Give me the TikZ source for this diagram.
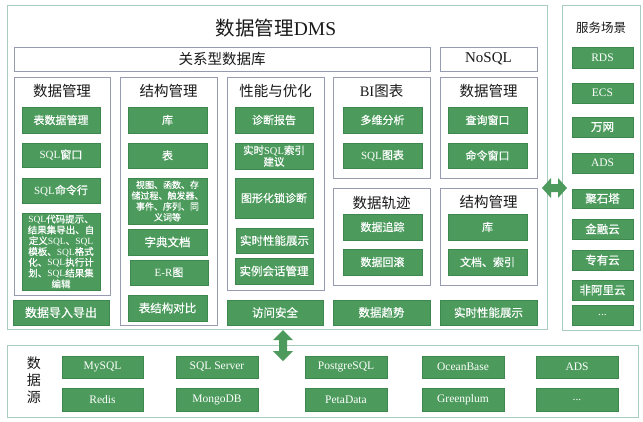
\documentclass[tikz,border=0pt]{standalone}
\usepackage{fontspec}
\setmainfont{Noto Sans CJK SC}
\newfontfamily\cjkm[FakeBold=0.6]{Noto Sans CJK SC}
\newfontfamily\serf{Liberation Serif}
\newcommand\en[1]{{\serf #1}}
\definecolor{dgreen}{RGB}{76,155,92}
\definecolor{dgreenb}{RGB}{62,135,78}
\definecolor{colgray}{RGB}{150,155,175}
\definecolor{outgreen}{RGB}{168,204,190}
\definecolor{ink}{RGB}{25,25,25}
\newcommand\rbox[7][]{\node[#1, minimum width={#5-#3}, minimum height={#6-#4}] (#2) at ({(#3+#5)/2},{(#4+#6)/2}) {#7};}
\tikzset{
  gbox/.style={fill=dgreen, draw=dgreenb, line width=0.4pt, text=white, inner sep=0pt, align=center, font=\cjkm\fontsize{11}{13}\selectfont},
  colbox/.style={draw=colgray, line width=0.7pt, inner sep=0pt},
  outbox/.style={draw=outgreen, line width=0.9pt, inner sep=0pt},
  ttl/.style={text=ink, font=\fontsize{14.5}{16}\selectfont, inner sep=0pt},
  garrow/.style={fill=dgreen, draw=none}
}
\begin{document}
\begin{tikzpicture}[x=1pt,y=-1pt]
\fill[white] (0,0) rectangle (643,421);
\useasboundingbox (0,0) rectangle (643,421);

% outer boxes
\rbox[outbox]{dms}{7}{5}{547}{329}{}
\rbox[outbox]{svc}{562}{5}{640}{330}{}
\rbox[outbox]{src}{7}{345}{638}{417}{}

\node[text=ink, font=\fontsize{19.5}{22}\selectfont, inner sep=0pt] (dmst) at (276,28) {数据管理\en{DMS}};
\node[ttl, font=\fontsize{12.5}{14}\selectfont] (svct) at (601,28) {服务场景};

% header boxes
\rbox[colbox, ttl]{rel}{14}{47}{430}{71}{关系型数据库}
\rbox[colbox, ttl]{nosql}{440}{47}{537}{71}{\en{\fontsize{15}{16}\selectfont NoSQL}}

% column boxes
\rbox[colbox]{c1}{14}{77}{110}{295}{}
\rbox[colbox]{c2}{120}{77}{217}{325}{}
\rbox[colbox]{c3}{227}{77}{324}{290}{}
\rbox[colbox]{c4}{333}{77}{430}{178}{}
\rbox[colbox]{c5}{440}{77}{537}{178}{}
\rbox[colbox]{c6}{333}{188}{430}{285}{}
\rbox[colbox]{c7}{440}{188}{537}{285}{}

\node[ttl] (t1) at (62,91) {数据管理};
\node[ttl] (t2) at (168.5,91) {结构管理};
\node[ttl] (t3) at (275.5,91) {性能与优化};
\node[ttl] (t4) at (381.5,91) {\en{BI}图表};
\node[ttl] (t5) at (488.5,91) {数据管理};
\node[ttl] (t6) at (381.5,203) {数据轨迹};
\node[ttl] (t7) at (488.5,202) {结构管理};

% column 1
\rbox[gbox]{g11}{22}{107}{100}{133}{表数据管理}
\rbox[gbox]{g12}{22}{143}{100}{167}{\en{SQL}窗口}
\rbox[gbox]{g13}{22}{178}{100}{203}{\en{SQL}命令行}
\rbox[gbox, font=\cjkm\fontsize{9.5}{10.8}\selectfont]{g14}{22}{213}{100}{290}{\en{SQL}代码提示、\\结果集导出、自\\定义\en{SQL}、\en{SQL}\\模板、\en{SQL}格式\\化、\en{SQL}执行计\\划、\en{SQL}结果集\\编辑}

% column 2
\rbox[gbox]{g21}{128}{107}{207}{133}{库}
\rbox[gbox]{g22}{128}{143}{207}{168}{表}
\rbox[gbox, font=\cjkm\fontsize{9}{10.8}\selectfont]{g23}{128}{178}{207}{224}{视图、函数、存\\储过程、触发器、\\事件、序列、同\\义词等}
\rbox[gbox, font=\cjkm\fontsize{11.5}{13}\selectfont]{g24}{128}{229}{207}{255}{字典文档}
\rbox[gbox]{g25}{130}{260}{208}{285}{\en{E-R}图}
\rbox[gbox, font=\cjkm\fontsize{11.5}{13}\selectfont]{g26}{128}{295}{207}{321}{表结构对比}

% column 3
\rbox[gbox]{g31}{235}{107}{313}{133}{诊断报告}
\rbox[gbox, font=\cjkm\fontsize{10.5}{11.5}\selectfont]{g32}{235}{143}{313}{169}{实时\en{SQL}索引\\建议}
\rbox[gbox]{g33}{235}{178}{313}{218}{图形化锁诊断}
\rbox[gbox, font=\cjkm\fontsize{11.5}{13}\selectfont]{g34}{236}{228}{313}{253}{实时性能展示}
\rbox[gbox, font=\cjkm\fontsize{11.5}{13}\selectfont]{g35}{235}{258}{313}{284}{实例会话管理}

% column 4-7
\rbox[gbox]{g41}{343}{107}{422}{133}{多维分析}
\rbox[gbox]{g42}{343}{143}{422}{168}{\en{SQL}图表}
\rbox[gbox]{g51}{448}{107}{527}{133}{查询窗口}
\rbox[gbox]{g52}{448}{143}{527}{168}{命令窗口}
\rbox[gbox]{g61}{343}{214}{422}{240}{数据追踪}
\rbox[gbox]{g62}{343}{249}{422}{275}{数据回滚}
\rbox[gbox]{g71}{448}{214}{527}{240}{库}
\rbox[gbox]{g72}{448}{249}{527}{275}{文档、索引}

% bottom row
\rbox[gbox, font=\cjkm\fontsize{12}{14}\selectfont]{b1}{13}{300}{109}{325}{数据导入导出}
\rbox[gbox, font=\cjkm\fontsize{11.5}{13}\selectfont]{b3}{227}{300}{323}{325}{访问安全}
\rbox[gbox, font=\cjkm\fontsize{11.5}{13}\selectfont]{b4}{333}{300}{430}{325}{数据趋势}
\rbox[gbox, font=\cjkm\fontsize{11.5}{13}\selectfont]{b5}{440}{300}{537}{325}{实时性能展示}

% service column
\tikzset{sbox/.style={gbox, font=\cjkm\fontsize{11.5}{13}\selectfont}}
\rbox[sbox]{s1}{572}{47}{633}{68}{\en{RDS}}
\rbox[sbox]{s2}{572}{83}{633}{103}{\en{ECS}}
\rbox[sbox]{s3}{572}{117}{633}{137}{万网}
\rbox[sbox]{s4}{572}{153}{633}{173}{\en{ADS}}
\rbox[sbox]{s5}{572}{189}{633}{208}{聚石塔}
\rbox[sbox]{s6}{572}{219}{633}{239}{金融云}
\rbox[sbox]{s7}{572}{250}{633}{270}{专有云}
\rbox[sbox]{s8}{572}{280}{633}{300}{非阿里云}
\rbox[sbox]{s9}{572}{305}{633}{325}{\en{...}}

% data sources
\node[text=ink, font=\fontsize{14}{17}\selectfont, align=center, inner sep=0pt] (srct) at (34,380) {数\\据\\源};
\tikzset{dbox/.style={gbox, font=\serf\fontsize{11.5}{13}\selectfont}}
\rbox[dbox]{d11}{62}{356}{143}{378}{MySQL}
\rbox[dbox]{d12}{176}{356}{258}{378}{SQL Server}
\rbox[dbox]{d13}{305}{356}{387}{378}{PostgreSQL}
\rbox[dbox]{d14}{422}{356}{504}{378}{OceanBase}
\rbox[dbox]{d15}{536}{356}{618}{378}{ADS}
\rbox[dbox]{d21}{62}{388}{143}{411}{Redis}
\rbox[dbox]{d22}{176}{388}{258}{411}{MongoDB}
\rbox[dbox]{d23}{305}{388}{387}{411}{PetaData}
\rbox[dbox]{d24}{422}{388}{504}{411}{Greenplum}
\rbox[dbox]{d25}{536}{388}{618}{411}{...}

% double arrows
\fill[garrow] (542,188) -- (551,178) -- (551,184) -- (558,184) -- (558,178) -- (567,188) -- (558,198) -- (558,192) -- (551,192) -- (551,198) -- cycle;
\fill[garrow] (283,330) -- (293,340) -- (287,340) -- (287,351) -- (293,351) -- (283,361) -- (273,351) -- (279,351) -- (279,340) -- (273,340) -- cycle;
\end{tikzpicture}
\end{document}
